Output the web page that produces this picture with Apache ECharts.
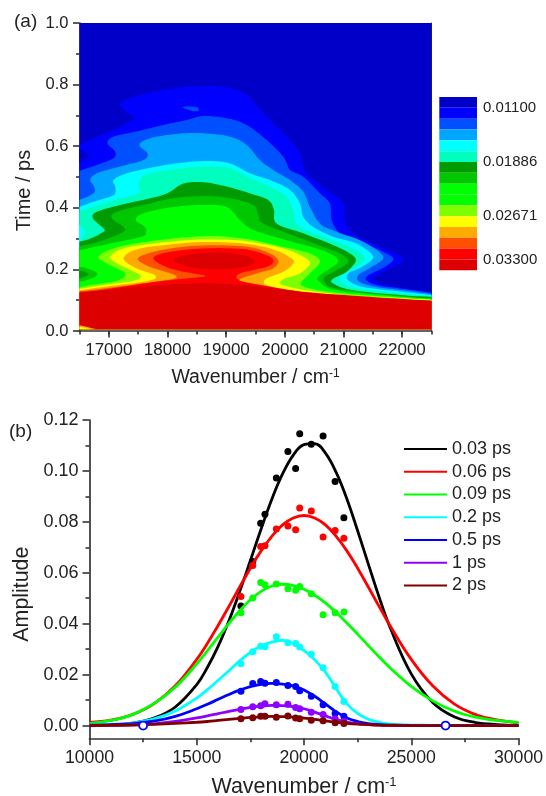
<!DOCTYPE html>
<html><head><meta charset="utf-8">
<style>html,body{margin:0;padding:0;background:#fff}#c{width:546px;height:796px}</style>
<script src="https://cdn.jsdelivr.net/npm/echarts@6/dist/echarts.min.js"></script>
</head><body><div id="c"></div>
<script>
// ---------- panel (a): contour boundaries as [wavenumber, time] ----------
const levelColors = ['#0000C8','#0000FF','#0050FF','#00A5FF','#00FFFF','#00FFBE','#009B00','#00C800','#00FF00','#00FF00','#7DFF00','#FFFF00','#FFAA00','#FF5000','#FF0000','#DC0000'];
const levelStart = 0.00943, levelStep = 0.00157;
const colorbarTicks = [0.011, 0.01886, 0.02671, 0.033];

const contourBlue = [[16500,.604],[16738,.626],[17079,.653],[17391,.685],[17391,.698],[17192,.734],[17363,.756],[17817,.778],[18271,.792],[18725,.796],[19066,.788],[19349,.767],[19576,.718],[19860,.664],[20087,.620],[20257,.577],[20371,.512],[20712,.458],[20995,.414],[21024,.360],[21166,.317],[21563,.279],[22017,.235],[21790,.203],[21535,.176],[21563,.159],[21904,.143],[22500,.127]];
const contourRoyal = [[16500,.520],[16795,.539],[17079,.561],[17107,.582],[16977,.610],[17079,.631],[17476,.648],[17930,.669],[18328,.685],[18611,.698],[19009,.691],[19349,.669],[19690,.620],[19974,.566],[20087,.523],[20314,.501],[20598,.447],[20768,.414],[20797,.360],[20939,.317],[21222,.295],[21620,.262],[21847,.235],[21705,.208],[21421,.181],[21393,.165],[21563,.149],[21960,.138],[22500,.124]];
const contourSky = [[16500,.425],[16738,.447],[16750,.469],[16682,.490],[16795,.512],[17192,.534],[17590,.555],[17658,.577],[17522,.604],[17703,.626],[18157,.640],[18611,.642],[19066,.631],[19349,.604],[19576,.555],[19803,.523],[20087,.490],[20314,.452],[20428,.403],[20598,.349],[20882,.322],[21336,.290],[21676,.241],[21478,.208],[21251,.181],[21279,.159],[21563,.143],[22017,.132],[22500,.120]];
const contourCyan = [[16500,.403],[16738,.420],[17079,.441],[17107,.469],[17079,.490],[17306,.512],[17817,.534],[18271,.547],[18725,.552],[19066,.544],[19406,.512],[19747,.490],[20087,.458],[20257,.414],[20314,.371],[20484,.338],[20825,.306],[21222,.284],[21506,.241],[21308,.208],[21081,.187],[21081,.165],[21336,.143],[22017,.127],[22500,.117]];
const contourTeal = [[16500,.389],[16738,.403],[17192,.431],[17505,.447],[17505,.479],[17618,.507],[18044,.523],[18611,.534],[19066,.528],[19349,.501],[19747,.469],[20030,.436],[20144,.393],[20201,.349],[20428,.322],[20825,.295],[21222,.262],[21364,.235],[21222,.208],[20967,.181],[20967,.159],[21222,.138],[22017,.121],[22500,.114]];
const contourDarkGreen = [[16500,.290],[16682,.300],[16909,.322],[16909,.333],[16727,.366],[16795,.387],[17192,.409],[17817,.436],[18044,.452],[18271,.479],[18611,.483],[19009,.469],[19406,.447],[19718,.425],[19815,.393],[19860,.349],[20314,.317],[20825,.279],[21109,.252],[21211,.228],[21052,.192],[20825,.170],[20825,.154],[21166,.132],[22017,.116],[22500,.111]];
const contourMidGreen = [[16500,.275],[16909,.295],[17249,.322],[17249,.338],[17051,.366],[17136,.387],[17590,.409],[18101,.431],[18611,.438],[19066,.431],[19463,.409],[19548,.376],[19633,.349],[20201,.306],[20655,.273],[20939,.252],[21081,.225],[20882,.197],[20683,.176],[20683,.159],[20882,.138],[22017,.113],[22500,.107]];
const contourGreen = [[16500,.262],[17022,.284],[17561,.306],[17635,.322],[17618,.338],[17459,.360],[17590,.382],[18101,.403],[18611,.409],[19009,.403],[19236,.360],[19463,.328],[20030,.295],[20541,.268],[20825,.246],[20910,.225],[20768,.203],[20570,.176],[20598,.159],[20882,.132],[22017,.111],[22500,.105]];
const contourLime = [[16500,.141],[16682,.149],[17136,.163],[17278,.187],[16965,.219],[16824,.241],[17079,.268],[17647,.290],[18611,.308],[19293,.300],[19974,.273],[20428,.252],[20598,.225],[20428,.187],[20286,.159],[20343,.143],[20882,.124],[22017,.108],[22500,.103]];
const contourYellow = [[16500,.137],[16909,.149],[17420,.163],[17533,.181],[17192,.214],[17022,.241],[17306,.271],[18044,.290],[18611,.297],[19293,.293],[19974,.268],[20314,.241],[20428,.219],[20257,.187],[19945,.165],[20030,.145],[20882,.119],[22017,.106],[22500,.101]];
const contourOrange = [[16500,.132],[16909,.143],[17675,.163],[17788,.181],[17476,.203],[17249,.235],[17476,.265],[18044,.281],[18611,.289],[19293,.284],[19803,.265],[20116,.235],[20144,.219],[19974,.192],[19662,.167],[19803,.143],[20882,.116],[22500,.099]];
const contourVermilion = [[16500,.129],[16909,.138],[17987,.165],[18129,.181],[17703,.208],[17493,.235],[17760,.257],[18157,.271],[18611,.278],[19293,.275],[19690,.257],[19889,.230],[19803,.203],[19520,.187],[19236,.167],[19406,.152],[20882,.113],[22500,.098]];
const contourRed = [[16500,.127],[16909,.134],[17760,.159],[18498,.174],[18640,.179],[18441,.187],[18044,.203],[17760,.235],[17987,.255],[18611,.268],[19293,.266],[19690,.246],[19803,.228],[19690,.208],[19236,.187],[19207,.167],[19520,.152],[20882,.111],[22500,.097]];
const contourDeepRed = [[16500,.124],[16909,.132],[17760,.148],[18611,.154],[19349,.149],[20314,.127],[21449,.111],[22500,.098]];

// small closed islands
const islandDeepRed = [[18101,.230],[18328,.246],[18839,.255],[19293,.246],[19491,.225],[19293,.208],[18839,.200],[18384,.208]];
const islandRoyal = [[18271,.728],[18498,.727],[18526,.715],[18441,.714],[18299,.722]];
const islandCyan = [[16460,.345],[16596,.322],[16460,.286]];
const islandMidGreen = [[16460,.206],[16682,.200],[16807,.184],[16653,.167],[16460,.163]];
const islandDarkGreen = [[16460,.195],[16596,.192],[16653,.184],[16580,.176],[16460,.172]];
const islandNavy = [[16460,.590],[16625,.577],[16625,.561],[16460,.548]];
const wedgeOrange = [[16500,.019],[16650,.012],[16790,.006],[16500,.006]];
const wedgeYellow = [[16500,.014],[16620,.010],[16700,.006],[16500,.006]];

const timeBase = 0.006;

const layers = [
  {c:'#0000FF',p:contourBlue},{c:'#0000C8',p:islandNavy,closed:1},{c:'#0050FF',p:islandRoyal,closed:1},
  {c:'#0050FF',p:contourRoyal},{c:'#00A5FF',p:contourSky},{c:'#00FFFF',p:contourCyan},{c:'#00FFBE',p:contourTeal},
  {c:'#00FFFF',p:islandCyan,closed:1},
  {c:'#009B00',p:contourDarkGreen},{c:'#00C800',p:contourMidGreen},{c:'#00FF00',p:contourGreen},
  {c:'#00C800',p:islandMidGreen,closed:1},{c:'#009B00',p:islandDarkGreen,closed:1},
  {c:'#7DFF00',p:contourLime},{c:'#FFFF00',p:contourYellow},{c:'#FFAA00',p:contourOrange},
  {c:'#FF5000',p:contourVermilion},{c:'#FF0000',p:contourRed},{c:'#DC0000',p:contourDeepRed},
  {c:'#DC0000',p:islandDeepRed,closed:1},{c:'#FFAA00',p:wedgeOrange,raw:1},{c:'#FFFF00',p:wedgeYellow,raw:1}
];

// ---------- panel (b): fitted curves sampled on this wavenumber list ----------
const fitWavenumbers = [10000,11000,12000,13000,14000,15000,15500,16000,16500,17000,17500,18000,18500,19000,19500,20000,20500,21000,21500,22000,22500,23000,23500,24000,25000,26000,27000,28000,29000,30000];
const fit003 = [.0001,.0003,.001,.0029,.0073,.0161,.0229,.0312,.0412,.0526,.0648,.0772,.0889,.0988,.1062,.1103,.1107,.107,.0994,.089,.0765,.0634,.0505,.0388,.0203,.0091,.0035,.0012,.0004,.0001];
const fit006 = [.0012,.0021,.0043,.0085,.0156,.026,.0323,.0394,.0468,.0544,.0618,.0686,.0743,.0788,.0815,.0825,.0815,.0788,.0743,.0686,.0618,.0544,.0468,.0394,.026,.0156,.0085,.0043,.0022,.0010];
const fit009 = [.0008,.002,.0043,.0086,.0151,.0242,.0294,.0348,.0401,.0451,.0494,.0527,.0548,.0555,.055,.0535,.0512,.0482,.0444,.0403,.0359,.0314,.027,.0228,.0154,.0097,.0057,.0033,.002,.0012];
const fit02  = [.0003,.0005,.001,.0026,.0057,.0108,.0141,.0178,.0215,.0254,.0287,.0313,.0328,.0335,.0322,.0295,.0258,.021,.0145,.0085,.0048,.0025,.0013,.0006,.0002,.0001,0,0,0,0];
const fit05  = [.0002,.0004,.0008,.0017,.0036,.0066,.0084,.0103,.0122,.0139,.0153,.0162,.0166,.0163,.0156,.014,.0115,.0085,.0054,.003,.0016,.0008,.0004,.0002,0,0,0,0,0,0];
const fit1   = [0,.0001,.0003,.0007,.0016,.003,.0038,.0047,.0056,.0064,.0071,.0076,.0079,.0078,.0074,.0066,.0053,.0038,.0024,.0014,.0008,.0004,.0002,.0001,0,0,0,0,0,0];
const fit2   = [0,.0001,.0002,.0005,.0009,.0013,.0016,.002,.0024,.0028,.0032,.0034,.0036,.0035,.0033,.0029,.0024,.0018,.0013,.0009,.0006,.0004,.0002,.0001,0,0,0,0,0,0];

const pointWavenumbers = [17060,17610,17980,18180,18710,19250,19610,19800,20340,20890,21450,21860];
const pts003 = [.047,.0644,.0795,.083,.0972,.1076,.101,.1146,.1105,.1137,.0958,.0816];
const pts006 = [.0507,.0629,.0703,.0706,.0772,.0784,.0769,.0854,.0843,.0741,.0766,.0736];
const pts009 = [.0443,.0501,.0562,.0553,.0556,.0537,.0531,.0546,.0518,.0435,.0443,.0446];
const pts02  = [.0243,.029,.0311,.031,.0349,.0325,.0322,.0309,.028,.0227,.0153,.0095];
const pts05  = [.0135,.0165,.0173,.0166,.0169,.0157,.0153,.0137,.0115,.0082,.0047,.0037];
const pts1   = [.0063,.0074,.0078,.0086,.0082,.0084,.0071,.0066,.0052,.0043,.0027,.0017];
const pts2   = [.0027,.0031,.0037,.0037,.0033,.0038,.003,.0027,.0021,.0019,.0011,.0008];
const baselinePoints = [[12500,0],[26600,0]];

const seriesNames = ['0.03 ps','0.06 ps','0.09 ps','0.2 ps','0.5 ps','1 ps','2 ps'];
const seriesColors = ['#000000','#FF0000','#00FF00','#00FFFF','#0000FF','#8F00FF','#800000'];
const fits = [fit003,fit006,fit009,fit02,fit05,fit1,fit2];
const points = [pts003,pts006,pts009,pts02,pts05,pts1,pts2];

const FONT = '"Liberation Sans", Arial, sans-serif';
const AX = '#333333';

function catmull(pts, closed){
  const out=[], n=pts.length, steps=8;
  const at=i=> closed ? pts[(i+n)%n] : pts[Math.max(0,Math.min(n-1,i))];
  const last = closed ? n : n-1;
  for(let i=0;i<last;i++){
    const a=at(i-1),b=at(i),c=at(i+1),d=at(i+2);
    for(let s=0;s<steps;s++){
      const t=s/steps,t2=t*t,t3=t2*t;
      out.push([0,1].map(k=>0.5*(2*b[k]+(c[k]-a[k])*t+(2*a[k]-5*b[k]+4*c[k]-d[k])*t2+(3*b[k]-a[k]-3*c[k]+d[k])*t3)));
    }
  }
  if(!closed) out.push(pts[n-1]);
  return out;
}

const plotBackground = [[16500,timeBase],[22500,timeBase],[22500,1],[16500,1]];

function renderContour(params, api){
  const i = api.value(0);
  if(i<0){
    return {type:'polygon',shape:{points:plotBackground.map(p=>api.coord(p))},style:{fill:'#0000C8'}};
  }
  const L = layers[i];
  const px = L.p.map(p=>api.coord(p));
  let poly;
  if(L.raw) poly = px;
  else if(L.closed) poly = catmull(px,true);
  else {
    poly = catmull(px,false);
    poly.push(api.coord([22500,timeBase]), api.coord([16500,timeBase]));
  }
  return {type:'polygon',shape:{points:poly},style:{fill:L.c}};
}

function renderBar(params, api){
  const k = api.value(0);
  const a = api.coord([0, levelStart+k*levelStep]);
  const b = api.coord([1, levelStart+(k+1)*levelStep]);
  return {type:'rect',shape:{x:a[0],y:a[1],width:b[0]-a[0],height:b[1]-a[1]},style:{fill:levelColors[k]}};
}

const lineA = {onZero:false,lineStyle:{color:AX,width:1.7}};
const tickA = (len)=>({show:true,length:len,inside:false,lineStyle:{color:AX,width:1.6}});
const off = {show:false};

const option = {
  animation:false,
  backgroundColor:'#fff',
  textStyle:{fontFamily:FONT},
  grid:[
    {left:79.5,top:23,width:352,height:308,containLabel:false,outerBoundsMode:'none'},
    {left:89.5,top:420,width:429,height:318.3,containLabel:false,outerBoundsMode:'none'},
    {left:439.3,top:97,width:37.7,height:173.3,containLabel:false,outerBoundsMode:'none'}
  ],
  xAxis:[
    {gridIndex:0,type:'value',min:16500,max:22500,position:'bottom',axisLine:lineA,
     axisTick:Object.assign(tickA(6.5),{customValues:[17000,18000,19000,20000,21000,22000]}),
     axisLabel:{fontSize:17,fontFamily:FONT,color:'#222',margin:11,customValues:[17000,18000,19000,20000,21000,22000],formatter:v=>String(v)},
     splitLine:off,name:'Wavenumber / cm{s|-1}',nameLocation:'middle',nameGap:37,
     nameTextStyle:{fontSize:19.5,fontFamily:FONT,color:'#222',rich:{s:{fontSize:12,fontFamily:FONT,color:'#222',verticalAlign:'top',lineHeight:20,padding:[0,0,6,0]}}}},
    {gridIndex:0,type:'value',min:16500,max:22500,interval:500,position:'bottom',axisLine:off,axisTick:tickA(3.5),axisLabel:off,splitLine:off},
    {gridIndex:0,type:'value',min:16500,max:22500,position:'top',axisLine:{onZero:false,lineStyle:{color:AX,width:1}},axisTick:off,axisLabel:off,splitLine:off},
    {gridIndex:1,type:'value',min:10000,max:30000,interval:5000,position:'bottom',axisLine:lineA,axisTick:tickA(7),
     minorTick:{show:true,splitNumber:2,length:4,lineStyle:{color:AX,width:1.6}},
     axisLabel:{fontSize:17.7,fontFamily:FONT,color:'#222',margin:11,showMinLabel:true,showMaxLabel:true,formatter:v=>String(v)},
     splitLine:off,minorSplitLine:off,name:'Wavenumber / cm{s|-1}',nameLocation:'middle',nameGap:38,
     nameTextStyle:{fontSize:21.5,fontFamily:FONT,color:'#222',rich:{s:{fontSize:13,fontFamily:FONT,color:'#222',verticalAlign:'top',lineHeight:22,padding:[0,0,8,0]}}}},
    {gridIndex:2,type:'value',min:0,max:1,show:false}
  ],
  yAxis:[
    {gridIndex:0,type:'value',min:0,max:1,interval:0.2,position:'left',axisLine:lineA,axisTick:tickA(6.5),
     minorTick:{show:true,splitNumber:2,length:3.5,lineStyle:{color:AX,width:1.6}},
     axisLabel:{fontSize:16.5,fontFamily:FONT,color:'#222',margin:11,formatter:v=>v.toFixed(1)},
     splitLine:off,minorSplitLine:off,name:'Time / ps',nameLocation:'middle',nameGap:42,
     nameTextStyle:{fontSize:20,fontFamily:FONT,color:'#222',padding:[0,27,0,0]}},
    {gridIndex:0,type:'value',min:0,max:1,position:'right',axisLine:{onZero:false,lineStyle:{color:AX,width:1}},axisTick:off,axisLabel:off,splitLine:off},
    {gridIndex:1,type:'value',min:-0.005,max:0.12,position:'left',axisLine:lineA,
     axisTick:Object.assign(tickA(7),{customValues:[0,.02,.04,.06,.08,.10,.12]}),
     axisLabel:{fontSize:18,fontFamily:FONT,color:'#222',margin:11,customValues:[0,.02,.04,.06,.08,.10,.12],formatter:v=>v.toFixed(2)},
     splitLine:off,name:'Amplitude',nameLocation:'middle',nameGap:52,nameTextStyle:{fontSize:21.4,fontFamily:FONT,color:'#222',padding:[0,30,0,0]}},
    {gridIndex:1,type:'value',min:-0.005,max:0.12,position:'left',axisLine:off,
     axisTick:Object.assign(tickA(4),{customValues:[.01,.03,.05,.07,.09,.11]}),axisLabel:off,splitLine:off},
    {gridIndex:2,type:'value',min:levelStart,max:levelStart+16*levelStep,inverse:true,position:'right',axisLine:off,axisTick:off,
     axisLabel:{fontSize:15,fontFamily:FONT,color:'#222',margin:6,padding:[3,0,0,0],customValues:colorbarTicks,formatter:v=>v.toFixed(5)},splitLine:off}
  ],
  legend:{
    left:398,top:435,orient:'vertical',itemWidth:43,itemHeight:18,itemGap:4.75,data:seriesNames,selectedMode:false,
    itemStyle:{opacity:0,color:'rgba(0,0,0,0)',borderWidth:0},
    textStyle:{fontSize:18,fontFamily:FONT,color:'#222'}
  },
  graphic:[
    {type:'text',left:14,top:12,style:{text:'(a)',fontSize:19,fontFamily:FONT,fill:'#222'}},
    {type:'text',left:9,top:422,style:{text:'(b)',fontSize:19,fontFamily:FONT,fill:'#222'}}
  ],
  series:[
    {type:'custom',name:'contour',xAxisIndex:0,yAxisIndex:0,clip:true,silent:true,
     data:[[-1]].concat(layers.map((_,i)=>[i])),renderItem:renderContour,encode:{x:[],y:[]}},
    {type:'custom',name:'colorbar',xAxisIndex:4,yAxisIndex:4,silent:true,
     data:levelColors.map((_,k)=>[k]),renderItem:renderBar,encode:{x:[],y:[]}}
  ]
};

seriesNames.forEach((nm,i)=>{
  option.series.push({type:'line',name:nm,xAxisIndex:3,yAxisIndex:2,symbol:'none',smooth:0.4,silent:true,
    lineStyle:{color:seriesColors[i],width:2.8},itemStyle:{color:seriesColors[i]},
    data:fitWavenumbers.map((w,j)=>[w,fits[i][j]]),z:3+i});
  option.series.push({type:'scatter',name:nm+' data',xAxisIndex:3,yAxisIndex:2,symbol:'circle',symbolSize:7,silent:true,
    itemStyle:{color:seriesColors[i],opacity:1},data:pointWavenumbers.map((w,j)=>[w,points[i][j]]),z:3+i});
});
option.series.push({type:'scatter',name:'baseline',xAxisIndex:3,yAxisIndex:2,symbol:'circle',symbolSize:8,silent:true,z:12,clip:false,
  itemStyle:{color:'#fff',borderColor:'#0000FF',borderWidth:1.8,opacity:1},data:baselinePoints});

echarts.init(document.getElementById('c'),null,{renderer:'canvas'}).setOption(option);
</script></body></html>
